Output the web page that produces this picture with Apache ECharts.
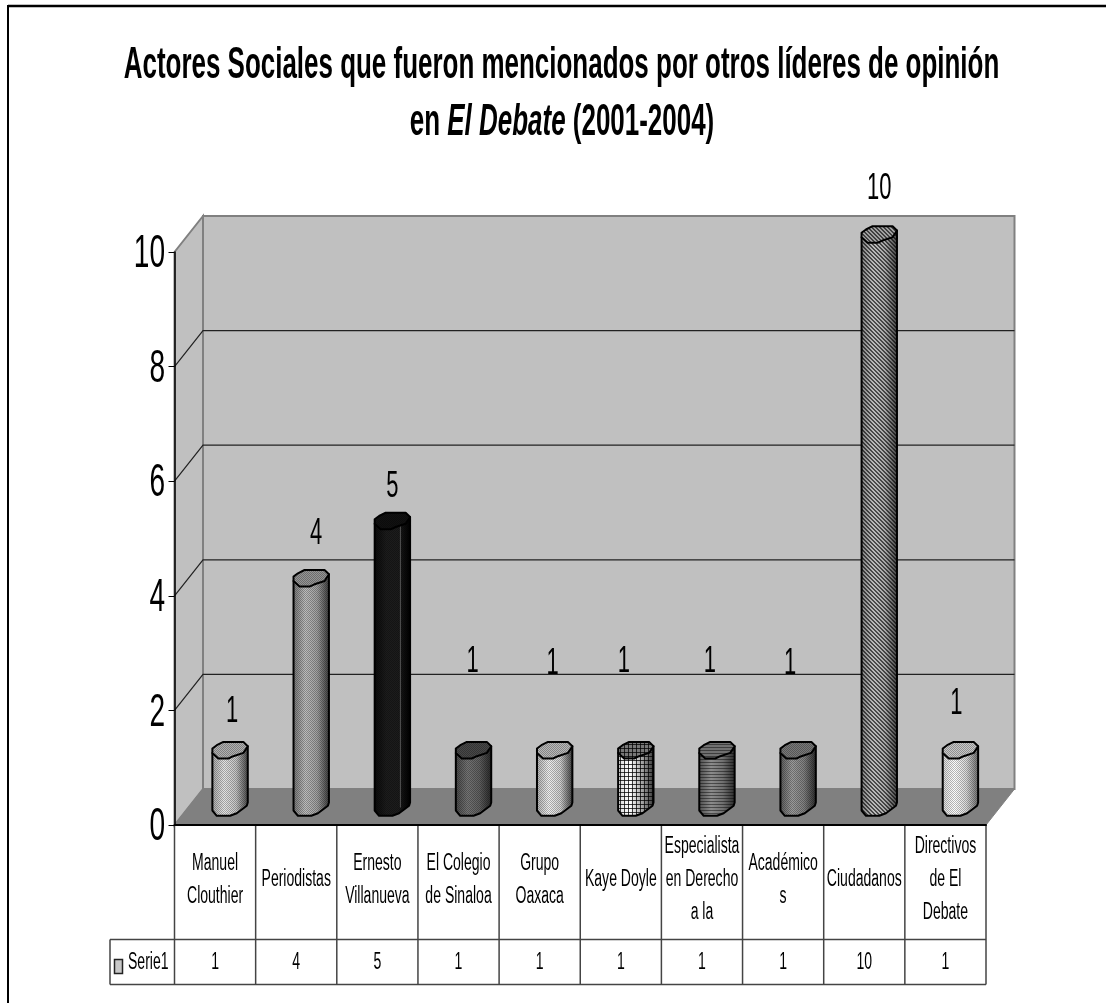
<!DOCTYPE html>
<html>
<head>
<meta charset="utf-8">
<title>Actores Sociales</title>
<style>
html,body{margin:0;padding:0;background:#fff}
#main{width:1106px;height:1003px}
</style>
<script src="https://cdn.jsdelivr.net/npm/echarts@6/dist/echarts.min.js"></script>
</head>
<body>
<div id="main"></div>
<script>
//datos del grafico
var categories = ['Manuel\nClouthier','Periodistas','Ernesto\nVillanueva','El Colegio\nde Sinaloa','Grupo\nOaxaca','Kaye Doyle','Especialista\nen Derecho\na la','Académico\ns','Ciudadanos','Directivos\nde El\nDebate'];
var values = [1,4,5,1,1,1,1,1,10,1];
var yTicks = [0,2,4,6,8,10];
var seriesName = 'Serie1';
var titleLine1 = 'Actores Sociales que fueron mencionados por otros líderes de opinión';
var titleLine2 = 'en {i|El Debate} (2001-2004)';

//posicion manual de cada etiqueta respecto a la tapa del cilindro
var labelDx = [2,5,0,-1,-2,-12,-7,-8,0,-4];
var labelLift = [38,44,34,88,86,88,88,86,45,46];

//relleno de cada cilindro
var barLook = [
	{stops:['#a8a8a8','#e4e4e4','#c4c4c4','#4c4c4c'],cap:'#b0b0b0',pat:'dots'},
	{stops:['#777777','#bdbdbd','#a0a0a0','#404040'],cap:'#959595',pat:'dots'},
	{stops:['#0a0a0a','#1c1c1c','#1c1c1c','#000000'],cap:'#111111',pat:'dots',seam:true},
	{stops:['#484848','#747474','#606060','#2a2a2a'],cap:'#484848',pat:'dots'},
	{stops:['#b0b0b0','#f0f0f0','#cfcfcf','#444444'],cap:'#b8b8b8',pat:'dots'},
	{stops:['#d8d8d8','#ffffff','#a8a8a8','#383838'],cap:'#787878',pat:'grid'},
	{stops:['#505050','#8c8c8c','#707070','#2c2c2c'],cap:'#707070',pat:'lines'},
	{stops:['#5c5c5c','#9c9c9c','#808080','#2e2e2e'],cap:'#787878',pat:'dots'},
	{stops:['#808080','#bcbcbc','#a8a8a8','#444444'],cap:'#a0a0a0',pat:'hatch'},
	{stops:['#d8d8d8','#ffffff','#d8d8d8','#707070'],cap:'#c8c8c8',pat:'dots'}
];

//constantes de dibujo
var DEPTH_X = 28.5, DEPTH_Y = 36;
var BAR_OFFSET = 15, BASE_LIFT = 17.5;
var ROW1_BOTTOM = 939.5, ROW2_BOTTOM = 984.5, LEGEND_LEFT = 110;
var FONT = 'Liberation Sans';
var SQUEEZE = 0.61;
var TITLE_SQUEEZE = 0.59;

//tapa y frente del cilindro, relativos al centro
var capShape = [[-17.7,-1.7],[-13.3,-5],[-6.7,-8.3],[13.3,-8.3],[17.7,-4],[13.3,2.7],[3.3,6],[-1.7,8.3],[-11.7,8.3],[-17.7,2.7]];
var frontCurve = [[-17.7,3],[-13.3,8.3],[0,8.3],[6.7,5.7],[16.7,-1.7],[17.7,-5]];

function makePattern(kind) {
	var c = document.createElement('canvas');
	var size = kind == 'hatch' ? 4 : (kind == 'grid' ? 4 : 2);
	c.width = size;
	c.height = kind == 'lines' ? 3 : size;
	var g = c.getContext('2d');
	if (kind == 'dots') {
		g.fillStyle = 'rgba(0,0,0,0.28)';
		g.fillRect(0,0,1,1);
		g.fillRect(1,1,1,1);
	} else if (kind == 'grid') {
		g.fillStyle = 'rgba(0,0,0,0.75)';
		g.fillRect(0,0,4,1);
		g.fillRect(0,0,1,4);
	} else if (kind == 'lines') {
		g.fillStyle = 'rgba(0,0,0,0.45)';
		g.fillRect(0,0,2,1);
	} else {
		g.fillStyle = 'rgba(0,0,0,0.6)';
		for (var i = 0; i < 4; i++) {
			g.fillRect(i,i,1,1);
			g.fillRect((i+1)%4,i,1,1);
		}
	}
	return {image:c, repeat:'repeat'};
}
var patterns = {dots:makePattern('dots'),grid:makePattern('grid'),lines:makePattern('lines'),hatch:makePattern('hatch')};

//texto estrecho como en el original
function narrowText(x,y,text,size,align,extra) {
	var style = {text:String(text),fontFamily:FONT,fontSize:size,fill:'#000',align:align||'center',verticalAlign:'middle'};
	if (extra) {
		for (var k in extra) style[k] = extra[k];
	}
	return {type:'text',x:x,y:y,scaleX:SQUEEZE,style:style};
}

function renderWalls(params,api) {
	var cs = params.coordSys;
	var left = cs.x, right = cs.x + cs.width;
	var y0 = api.coord([0,0])[1], yTop = api.coord([0,10])[1];
	var kids = [
		{type:'polygon',shape:{points:[[left,y0],[left+DEPTH_X,y0-DEPTH_Y],[left+DEPTH_X,yTop-DEPTH_Y],[left,yTop]]},style:{fill:'#c0c0c0',stroke:'#808080',lineWidth:2}},
		{type:'rect',shape:{x:left+DEPTH_X,y:yTop-DEPTH_Y,width:cs.width,height:y0-yTop},style:{fill:'#c0c0c0',stroke:'#808080',lineWidth:2}},
		{type:'polygon',shape:{points:[[left,y0],[left+DEPTH_X,y0-DEPTH_Y],[right+DEPTH_X,y0-DEPTH_Y],[right,y0]]},style:{fill:'#808080',stroke:'#808080',lineWidth:1}}
	];
	yTicks.forEach(function(t) {
		if (t == 0 || t == 10) return;
		var y = api.coord([0,t])[1];
		kids.push({type:'polyline',shape:{points:[[left,y],[left+DEPTH_X,y-DEPTH_Y],[right+DEPTH_X,y-DEPTH_Y]]},style:{fill:null,stroke:'#222',lineWidth:1.2}});
	});
	return {type:'group',children:kids};
}

function renderBar(params,api) {
	var i = api.value(0);
	var look = barLook[i];
	var front = api.coord([i,0]);
	var topPt = api.coord([i,api.value(1)]);
	var cx = front[0] + BAR_OFFSET;
	var baseY = front[1] - BASE_LIFT;
	var topY = topPt[1] - BASE_LIFT;
	var body = [[cx-17.7,topY+2.7]];
	frontCurve.forEach(function(p) { body.push([cx+p[0],baseY+p[1]]); });
	body.push([cx+17.7,topY-4]);
	var cap = capShape.map(function(p) { return [cx+p[0],topY+p[1]]; });
	var n = look.stops.length;
	var grad = new echarts.graphic.LinearGradient(0,0,1,0,look.stops.map(function(c,k) {
		return {offset:k/(n-1),color:c};
	}));
	var kids = [
		{type:'polygon',shape:{points:body},style:{fill:grad}},
		{type:'polygon',shape:{points:body},style:{fill:patterns[look.pat],stroke:'#000',lineWidth:2,lineJoin:'round'}}
	];
	if (look.seam) {
		kids.push({type:'line',shape:{x1:cx+8,y1:topY+4,x2:cx+8,y2:baseY},style:{stroke:'#555',lineWidth:1}});
	}
	kids.push(
		{type:'polygon',shape:{points:cap},style:{fill:look.cap}},
		{type:'polygon',shape:{points:cap},style:{fill:patterns[look.pat],stroke:'#000',lineWidth:2,lineJoin:'round'}},
		narrowText(cx+labelDx[i],topY-labelLift[i],api.value(1),36)
	);
	return {type:'group',children:kids};
}

function renderTable(params,api) {
	var cs = params.coordSys;
	var left = cs.x, right = cs.x + cs.width, y0 = cs.y + cs.height;
	var step = cs.width / categories.length;
	var border = {stroke:'#444',lineWidth:1.5};
	var kids = [
		{type:'line',shape:{x1:LEGEND_LEFT,y1:ROW1_BOTTOM,x2:right,y2:ROW1_BOTTOM},style:border},
		{type:'line',shape:{x1:LEGEND_LEFT,y1:ROW2_BOTTOM,x2:right,y2:ROW2_BOTTOM},style:border},
		{type:'line',shape:{x1:LEGEND_LEFT,y1:ROW1_BOTTOM,x2:LEGEND_LEFT,y2:ROW2_BOTTOM},style:border},
		{type:'rect',shape:{x:114.5,y:959.5,width:8,height:14},style:{fill:'#c8c8c8',stroke:'#222',lineWidth:1.5}},
		narrowText(128,963,seriesName,23,'left')
	];
	for (var i = 0; i <= categories.length; i++) {
		kids.push({type:'line',shape:{x1:left+i*step,y1:y0,x2:left+i*step,y2:ROW2_BOTTOM},style:border});
	}
	categories.forEach(function(name,k) {
		var x = api.coord([k,0])[0];
		kids.push(narrowText(x,880,name,23,'center',{lineHeight:33}));
		kids.push(narrowText(x,963,values[k],23));
	});
	yTicks.forEach(function(t) {
		kids.push(narrowText(165,api.coord([0,t])[1]+2.5,t,46,'right'));
	});
	return {type:'group',children:kids};
}

var myChart = echarts.init(document.getElementById('main'));
var option = {
	backgroundColor:'#fff',
	animation:false,
	grid:{left:174.5,right:120,top:252,bottom:178},
	xAxis:{
		type:'category',
		data:categories,
		axisLabel:{show:false},
		axisTick:{show:false},
		axisLine:{lineStyle:{color:'#000',width:2}},
		z:5
	},
	yAxis:{
		type:'value',
		min:0,
		max:10,
		interval:2,
		splitLine:{show:false},
		axisLabel:{show:false},
		axisLine:{show:true,lineStyle:{color:'#000',width:1.5}},
		axisTick:{show:true,length:6,lineStyle:{color:'#000',width:1}},
		z:5
	},
	graphic:[
		{type:'line',shape:{x1:8,y1:6,x2:1106,y2:6},style:{stroke:'#000',lineWidth:2.5}},
		{type:'line',shape:{x1:8,y1:5,x2:8,y2:1003},style:{stroke:'#000',lineWidth:2}},
		{type:'text',x:561.5,y:66,scaleX:TITLE_SQUEEZE,style:{text:titleLine1,fontFamily:FONT,fontWeight:'bold',fontSize:44,fill:'#000',align:'center',verticalAlign:'middle'}},
		{type:'text',x:562,y:123,scaleX:TITLE_SQUEEZE,style:{text:titleLine2,fontFamily:FONT,fontWeight:'bold',fontSize:44,fill:'#000',align:'center',verticalAlign:'middle',rich:{i:{fontFamily:FONT,fontWeight:'bold',fontStyle:'italic',fontSize:44}}}}
	],
	series:[
		{type:'custom',coordinateSystem:'cartesian2d',data:[0],z:1,silent:true,renderItem:renderWalls,clip:false},
		{type:'custom',name:seriesName,coordinateSystem:'cartesian2d',z:3,silent:true,clip:false,renderItem:renderBar,
			encode:{x:0,y:1},
			data:values.map(function(v,i) { return [i,v]; })},
		{type:'custom',coordinateSystem:'cartesian2d',data:[0],z:4,silent:true,renderItem:renderTable,clip:false}
	]
};
myChart.setOption(option);
</script>
</body>
</html>
